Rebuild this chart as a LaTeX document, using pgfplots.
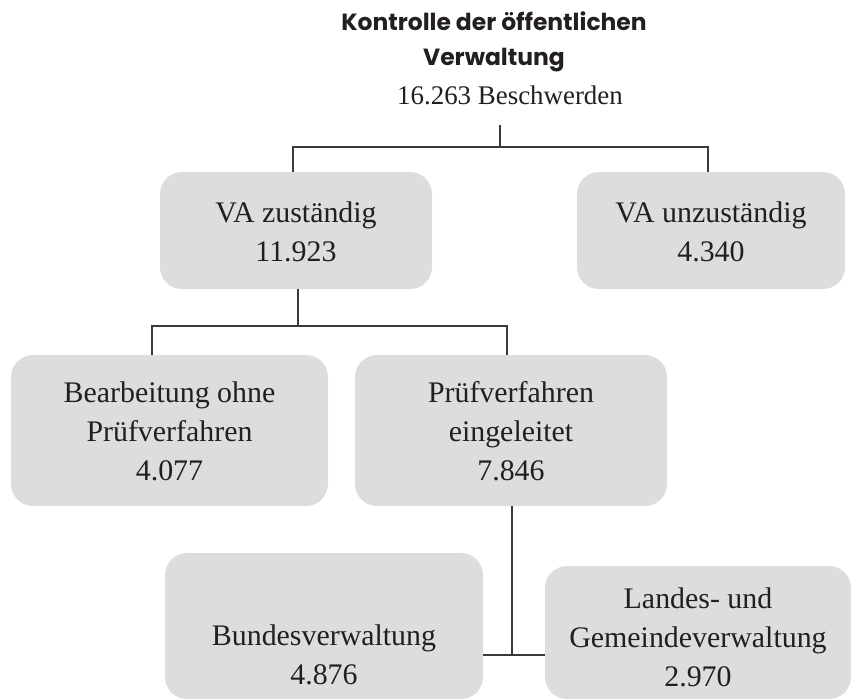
\documentclass[border=0pt]{standalone}
\usepackage{fontspec}
\setmainfont{Liberation Serif}
\newfontfamily\titlefont{Poppins}
\usepackage{pgfplots}
\pgfplotsset{compat=1.18}
\definecolor{boxgray}{HTML}{DCDDDF}
\definecolor{linegray}{HTML}{3A3A3A}
\definecolor{textcol}{HTML}{231F20}
\begin{document}
\begin{tikzpicture}
\begin{axis}[width=851bp,height=699bp,scale only axis,
  xmin=0,xmax=851,ymin=0,ymax=699,y dir=reverse,hide axis,clip=false]
% frame for bounding box
\addplot[draw=none,mark=none,forget plot] coordinates {(0,0) (851,699)};
% boxes
\fill[boxgray,rounded corners=22bp] (axis cs:160,172) rectangle (axis cs:432,289);
\fill[boxgray,rounded corners=22bp] (axis cs:577,172) rectangle (axis cs:845,289);
\fill[boxgray,rounded corners=22bp] (axis cs:11,355) rectangle (axis cs:328,506);
\fill[boxgray,rounded corners=22bp] (axis cs:355,355) rectangle (axis cs:667,506);
\fill[boxgray,rounded corners=22bp] (axis cs:165,553) rectangle (axis cs:483,699);
\fill[boxgray,rounded corners=22bp] (axis cs:545,566) rectangle (axis cs:851,699);
% connectors
\addplot[linegray,line width=1.2bp,mark=none] coordinates {(500,125) (500,147)};
\addplot[linegray,line width=1.2bp,mark=none] coordinates {(293,172) (293,147) (708,147) (708,172)};
\addplot[linegray,line width=1.2bp,mark=none] coordinates {(298,289) (298,326)};
\addplot[linegray,line width=1.2bp,mark=none] coordinates {(152,355) (152,326) (507,326) (507,355)};
\addplot[linegray,line width=1.2bp,mark=none] coordinates {(512,506) (512,655)};
\addplot[linegray,line width=1.2bp,mark=none] coordinates {(483,655) (545,655)};
% labels
\addplot[draw=none,mark=none,nodes near coords,point meta=explicit symbolic,
  nodes near coords style={anchor=center,align=center,text=textcol,inner sep=0pt,
    font=\fontsize{30}{39}\selectfont}]
  coordinates {
  (296,231.5) [{VA zuständig\\11.923}]
  (711,231.5) [{VA unzuständig\\4.340}]
  (169.5,431) [{Bearbeitung ohne\\Prüfverfahren\\4.077}]
  (511,431) [{Prüfverfahren\\eingeleitet\\7.846}]
  (324,655) [{Bundesverwaltung\\4.876}]
  (698,637) [{Landes- und\\Gemeindeverwaltung\\2.970}]
  };
\node[anchor=center,align=center,text=textcol,inner sep=0pt,
  font=\titlefont\bfseries\fontsize{23.5}{35}\selectfont] at (axis cs:494,41.5)
  {Kontrolle der öffentlichen\\Verwaltung};
\node[anchor=center,text=textcol,inner sep=0pt,font=\fontsize{27}{33}\selectfont]
  at (axis cs:510,95) {16.263 Beschwerden};
\end{axis}
\end{tikzpicture}
\end{document}
